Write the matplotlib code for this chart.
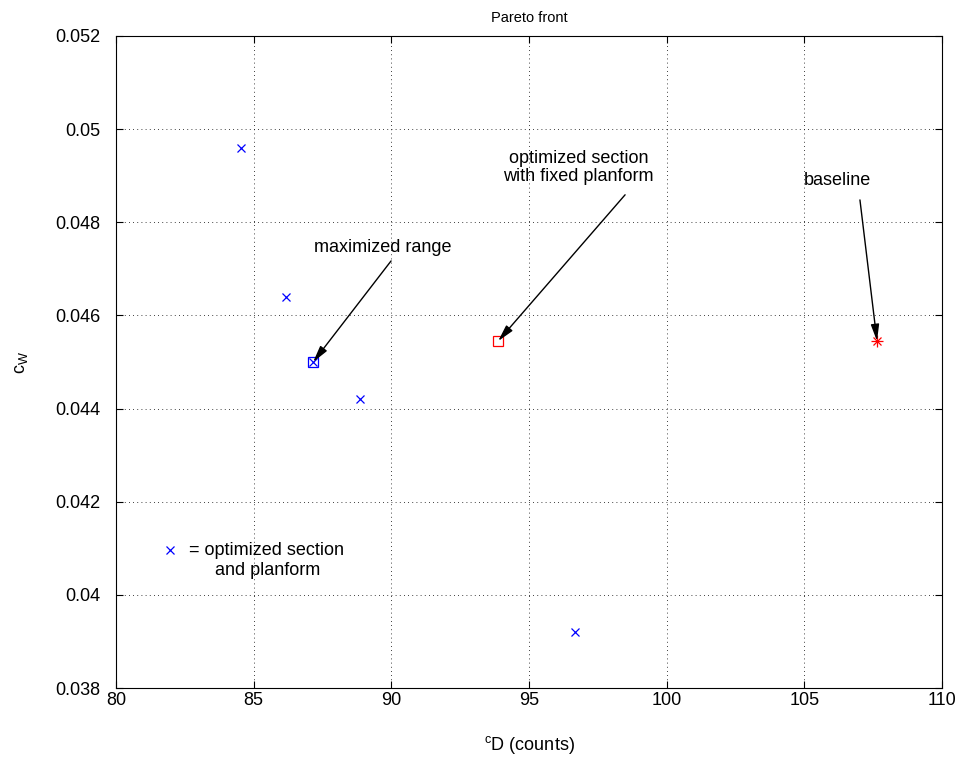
import matplotlib.pyplot as plt

plt.rcParams['font.family'] = ['Liberation Sans', 'DejaVu Sans']
plt.rcParams['mathtext.fontset'] = 'custom'
plt.rcParams['mathtext.rm'] = 'Liberation Sans'

# optimized section and planform (blue x)
opt_cd = [84.55, 86.18, 87.16, 88.86, 96.67]
opt_cw = [0.0496, 0.0464, 0.0450, 0.0442, 0.0392]

# maximized range (blue square)
maxr_cd = [87.16]
maxr_cw = [0.0450]

# optimized section with fixed planform (red square)
fixed_cd = [93.88]
fixed_cw = [0.04545]

# baseline (red star)
base_cd = [107.64]
base_cw = [0.04545]

xticks = [80, 85, 90, 95, 100, 105, 110]
yticks = [0.038, 0.040, 0.042, 0.044, 0.046, 0.048, 0.050, 0.052]
yticklabels = ['0.038', '0.04', '0.042', '0.044', '0.046', '0.048', '0.05', '0.052']

fs = 13

fig = plt.figure(figsize=(9.62, 7.59), dpi=100)
ax = fig.add_axes([0.1206, 0.0935, 0.8586, 0.8591])

ax.plot(opt_cd, opt_cw, 'x', color='b', ms=6, mew=0.9, ls='none')
ax.plot(maxr_cd, maxr_cw, 's', mfc='none', mec='b', ms=7, mew=0.9)
ax.plot(fixed_cd, fixed_cw, 's', mfc='none', mec='r', ms=7, mew=0.9)
ax.plot(base_cd, base_cw, '+', color='r', ms=8, mew=0.9)
ax.plot(base_cd, base_cw, 'x', color='r', ms=6, mew=0.9)

# legend-like note
ax.plot([81.96], [0.04096], 'x', color='b', ms=6, mew=0.9)
ax.text(82.65, 0.04096, '= optimized section', fontsize=fs, va='center', ha='left')
ax.text(83.6, 0.04053, 'and planform', fontsize=fs, va='center', ha='left')

arrow = dict(arrowstyle='-|>,head_length=1.0,head_width=0.25', color='k',
             lw=1, shrinkA=0, shrinkB=0)
ax.text(89.7, 0.04745, 'maximized range', ha='center', va='center', fontsize=fs)
ax.annotate('', xy=(maxr_cd[0], maxr_cw[0]), xytext=(89.99, 0.04717), arrowprops=arrow)
ax.text(96.8, 0.04917, 'optimized section\nwith fixed planform', ha='center',
        va='center', fontsize=fs, linespacing=1.1)
ax.annotate('', xy=(fixed_cd[0], fixed_cw[0]), xytext=(98.49, 0.04859), arrowprops=arrow)
ax.text(106.2, 0.0489, 'baseline', ha='center', va='center', fontsize=fs)
ax.annotate('', xy=(base_cd[0], base_cw[0]), xytext=(107.02, 0.04848), arrowprops=arrow)

ax.set_xlim(80, 110)
ax.set_ylim(0.038, 0.052)
ax.set_xticks(xticks)
ax.set_yticks(yticks)
ax.set_yticklabels(yticklabels)
ax.tick_params(direction='in', labelsize=fs, length=5, top=True, right=True)
ax.tick_params(axis='y', pad=11)
ax.tick_params(axis='x', pad=3)
ax.grid(True, color='k', ls=(0, (1, 4)), lw=0.6)

ax.set_title('Pareto front', fontsize=10.5, pad=10)
ax.set_xlabel(r'$^{\mathrm{c}}$D (counts)', fontsize=fs, labelpad=18)
ax.set_ylabel(r'c$_{\mathrm{W}}$', fontsize=fs, labelpad=18)

fig.savefig('out.png', dpi=100)
